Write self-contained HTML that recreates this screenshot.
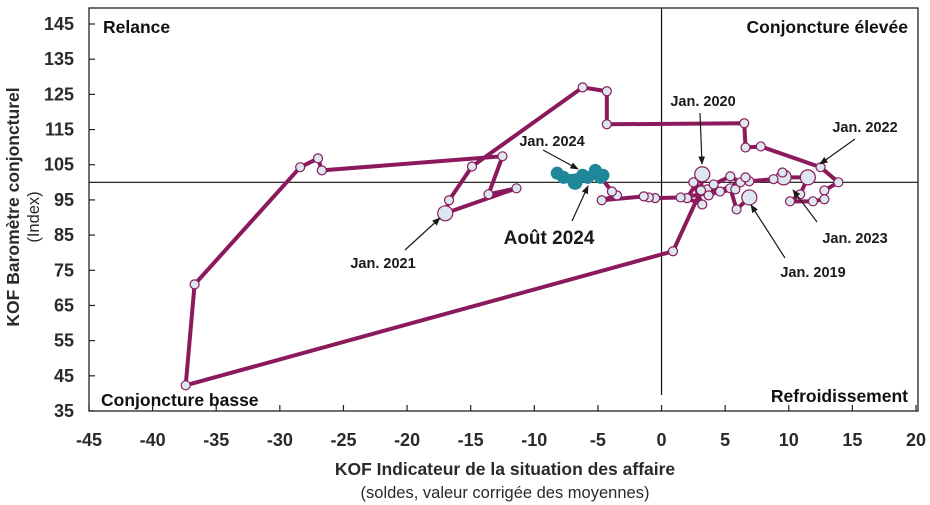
<!DOCTYPE html>
<html><head><meta charset="utf-8"><style>
html,body{margin:0;padding:0;background:#fff;}
svg{display:block;font-family:"Liberation Sans",Arial,sans-serif;}
</style></head><body>
<svg id="chart" width="930" height="505" viewBox="0 0 930 505">
<defs><marker id="ah" viewBox="0 0 10 10" refX="9" refY="5" markerWidth="7" markerHeight="7" orient="auto"><path d="M0,1 L10,5 L0,9 z" fill="#1a1a1a"/></marker></defs>
<g id="axes"></g>
<g id="series"></g>
<g id="annot"></g>
</svg>
<script>
const xTicks=[-45,-40,-35,-30,-25,-20,-15,-10,-5,0,5,10,15,20];
const yTicks=[35,45,55,65,75,85,95,105,115,125,135,145];
const histX=[6.9,5.9,5.4,4.6,3.6,4.1,5.4,6.2,3.7,2.5,3.2,2.0,3.2,3.1,0.9,-37.4,-36.7,-28.4,-27.0,-26.7,-12.5,-13.6,-11.4,-17.0,-16.7,-14.9,-6.2,-4.3,-4.3,6.5,6.6,7.8,12.5,13.9,12.8,12.8,11.9,10.1,10.9,11.5,9.6,9.5,8.8,6.9,6.6,5.8,1.5,-0.5,-1.0,-1.4,-4.7,-3.5,-3.9];
const histY=[95.7,92.3,98.3,97.4,98.0,99.4,101.7,100.0,96.3,100.0,93.7,95.5,102.3,97.7,80.4,42.3,71.0,104.3,106.8,103.4,107.4,96.6,98.3,91.2,94.9,104.5,127.0,125.9,116.5,116.8,109.9,110.2,104.3,100.0,97.7,95.2,94.6,94.6,96.6,101.4,101.4,102.8,100.9,100.3,101.4,98.0,95.7,95.5,95.7,96.0,94.9,96.3,97.4];
const bigIdx=[0,12,23,39,40];
const curX=[-5.2,-4.6,-4.8,-5.8,-6.2,-7.7,-8.2,-6.8];
const curY=[103.4,102.0,101.4,101.4,102.0,101.4,102.6,100.0];

const X0=89,X1=916,Y0=411,Y1=59.2;
const sx=v=>X0+(v+45)/65*(X1-X0);
const sy=v=>Y0-(v-35)/100*(Y0-Y1);
const NS="http://www.w3.org/2000/svg";
function mk(tag,attrs,parent,text){const e=document.createElementNS(NS,tag);for(const k in attrs)e.setAttribute(k,attrs[k]);if(text!=null)e.textContent=text;parent.appendChild(e);return e;}
const axes=document.getElementById('axes'),series=document.getElementById('series'),annot=document.getElementById('annot');

let e=mk('rect',{x:X0,y:8,width:918-X0,height:Y0-8,fill:'none',stroke:'#222','stroke-width':1.3},axes);

e=mk('line',{x1:X0,x2:918,y1:sy(100),y2:sy(100),stroke:'#111','stroke-width':1.2},axes);

e=mk('line',{x1:sx(0),x2:sx(0),y1:8,y2:395,stroke:'#111','stroke-width':1.2},axes);

xTicks.forEach(t=>{
  e=mk('line',{x1:sx(t),x2:sx(t),y1:Y0,y2:Y0-6,stroke:'#222','stroke-width':1.2},axes);
  
  e=mk('text',{x:sx(t),y:446,'text-anchor':'middle','font-size':18,'font-weight':'bold',fill:'#2a2a2a'},axes,String(t));
  
});
yTicks.forEach(t=>{
  e=mk('line',{x1:X0,x2:X0+6,y1:sy(t),y2:sy(t),stroke:'#222','stroke-width':1.2},axes);
  
  e=mk('text',{x:74,y:sy(t)+6,'text-anchor':'end','font-size':18,'font-weight':'bold',fill:'#2a2a2a'},axes,String(t));
  
});
e=mk('text',{x:505,y:475,'text-anchor':'middle','font-size':17.5,'font-weight':'bold',fill:'#2a2a2a'},axes,'KOF Indicateur de la situation des affaire');

e=mk('text',{x:505,y:498,'text-anchor':'middle','font-size':16.5,fill:'#2a2a2a'},axes,'(soldes, valeur corrigée des moyennes)');

e=mk('text',{x:0,y:0,transform:'translate(19,207) rotate(-90)','text-anchor':'middle','font-size':17.5,'font-weight':'bold',fill:'#2a2a2a'},axes,'KOF Baromètre conjoncturel');

e=mk('text',{x:0,y:0,transform:'translate(39,217) rotate(-90)','text-anchor':'middle','font-size':16.5,fill:'#2a2a2a'},axes,'(Index)');

[['Relance',103,33,'start'],['Conjoncture élevée',908,33,'end'],['Conjoncture basse',101,406,'start'],['Refroidissement',908,402,'end']].forEach(q=>{
  e=mk('text',{x:q[1],y:q[2],'text-anchor':q[3],'font-size':17.5,'font-weight':'bold',fill:'#111'},axes,q[0]);
  
});

// history line
let pts=histX.map((v,i)=>sx(v)+','+sy(histY[i]));
pts.push(sx(curX[0])+','+sy(curY[0]));
e=mk('polyline',{points:pts.join(' '),fill:'none',stroke:'#8b1a5c','stroke-width':4,'stroke-linejoin':'round'},series);

histX.forEach((v,i)=>{
  const big=bigIdx.includes(i);
  e=mk('circle',{cx:sx(v),cy:sy(histY[i]),r:big?7.5:4.5,fill:'#dbe8ef',stroke:'#8b1a5c','stroke-width':1.2},series);
  
});
e=mk('polyline',{points:curX.map((v,i)=>sx(v)+','+sy(curY[i])).join(' '),fill:'none',stroke:'#1f8799','stroke-width':5,'stroke-linejoin':'round'},series);

curX.forEach((v,i)=>{
  e=mk('circle',{cx:sx(v),cy:sy(curY[i]),r:i==curX.length-1?7:6,fill:'#1f8799',stroke:'#1f8799','stroke-width':1},series);
  
});

const notes=[
 ['Jan. 2024',552,146,14.5,543,150,578,169,'bold'],
 ['Août 2024',549,244,19,572,221,588,186,'bold'],
 ['Jan. 2021',383,268,14.5,405,250,440,218,'bold'],
 ['Jan. 2020',703,106,14.5,700,113,702,164,'bold'],
 ['Jan. 2022',865,132,14.5,855,139,820,164,'bold'],
 ['Jan. 2023',855,243,14.5,817,222,793,190,'bold'],
 ['Jan. 2019',813,277,14.5,785,258,751,205,'bold']
];
notes.forEach(n=>{
  e=mk('text',{x:n[1],y:n[2],'text-anchor':'middle','font-size':n[3],'font-weight':n[8],fill:'#1a1a1a'},annot,n[0]);
  
  e=mk('line',{x1:n[4],y1:n[5],x2:n[6],y2:n[7],stroke:'#1a1a1a','stroke-width':1.2,'marker-end':'url(#ah)'},annot);
  
});
</script>
</body></html>
